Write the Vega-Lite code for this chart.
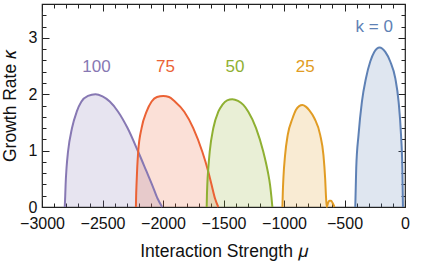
{
  "$schema": "https://vega.github.io/schema/vega-lite/v6.json",
  "width": 363,
  "height": 203,
  "autosize": "none",
  "padding": {"left": 42, "top": 4, "right": 16, "bottom": 56},
  "background": "white",
  "config": {
    "view": {"stroke": "#222", "strokeWidth": 1.2},
    "font": "Liberation Sans",
    "axis": {"labelFont": "Liberation Sans", "titleFont": "Liberation Sans", "labelFontSize": 16, "titleFontSize": 17.5, "labelColor": "#111", "titleColor": "#111", "titleFontWeight": "normal", "grid": false, "domain": false, "tickColor": "#222", "tickWidth": 1, "labelOverlap": false, "labelFlush": false}
  },
  "datasets": {
    "curves": [
      {"k": "100", "mu": -2812, "kappa": 0},
      {"k": "100", "mu": -2808, "kappa": 0.2},
      {"k": "100", "mu": -2805, "kappa": 0.39},
      {"k": "100", "mu": -2797, "kappa": 0.7},
      {"k": "100", "mu": -2785, "kappa": 0.98},
      {"k": "100", "mu": -2752, "kappa": 1.4},
      {"k": "100", "mu": -2713, "kappa": 1.69},
      {"k": "100", "mu": -2674, "kappa": 1.87},
      {"k": "100", "mu": -2620, "kappa": 1.97},
      {"k": "100", "mu": -2558, "kappa": 2.0},
      {"k": "100", "mu": -2500, "kappa": 1.96},
      {"k": "100", "mu": -2440, "kappa": 1.87},
      {"k": "100", "mu": -2371, "kappa": 1.69},
      {"k": "100", "mu": -2293, "kappa": 1.4},
      {"k": "100", "mu": -2205, "kappa": 0.98},
      {"k": "100", "mu": -2136, "kappa": 0.63},
      {"k": "100", "mu": -2089, "kappa": 0.39},
      {"k": "100", "mu": -2045, "kappa": 0.15},
      {"k": "100", "mu": -2007, "kappa": 0},
      {"k": "75", "mu": -2224, "kappa": 0},
      {"k": "75", "mu": -2222, "kappa": 0.2},
      {"k": "75", "mu": -2219, "kappa": 0.39},
      {"k": "75", "mu": -2213, "kappa": 0.7},
      {"k": "75", "mu": -2205, "kappa": 0.98},
      {"k": "75", "mu": -2177, "kappa": 1.4},
      {"k": "75", "mu": -2136, "kappa": 1.69},
      {"k": "75", "mu": -2094, "kappa": 1.87},
      {"k": "75", "mu": -2050, "kappa": 1.95},
      {"k": "75", "mu": -1998, "kappa": 1.97},
      {"k": "75", "mu": -1950, "kappa": 1.95},
      {"k": "75", "mu": -1902, "kappa": 1.87},
      {"k": "75", "mu": -1824, "kappa": 1.69},
      {"k": "75", "mu": -1750, "kappa": 1.4},
      {"k": "75", "mu": -1675, "kappa": 0.98},
      {"k": "75", "mu": -1626, "kappa": 0.63},
      {"k": "75", "mu": -1598, "kappa": 0.39},
      {"k": "75", "mu": -1570, "kappa": 0.15},
      {"k": "75", "mu": -1543, "kappa": 0},
      {"k": "50", "mu": -1639, "kappa": 0},
      {"k": "50", "mu": -1637, "kappa": 0.2},
      {"k": "50", "mu": -1634, "kappa": 0.39},
      {"k": "50", "mu": -1625, "kappa": 0.7},
      {"k": "50", "mu": -1614, "kappa": 0.98},
      {"k": "50", "mu": -1584, "kappa": 1.4},
      {"k": "50", "mu": -1543, "kappa": 1.69},
      {"k": "50", "mu": -1510, "kappa": 1.81},
      {"k": "50", "mu": -1470, "kappa": 1.89},
      {"k": "50", "mu": -1427, "kappa": 1.91},
      {"k": "50", "mu": -1380, "kappa": 1.88},
      {"k": "50", "mu": -1336, "kappa": 1.81},
      {"k": "50", "mu": -1295, "kappa": 1.69},
      {"k": "50", "mu": -1231, "kappa": 1.4},
      {"k": "50", "mu": -1171, "kappa": 0.98},
      {"k": "50", "mu": -1134, "kappa": 0.63},
      {"k": "50", "mu": -1115, "kappa": 0.39},
      {"k": "50", "mu": -1104, "kappa": 0.18},
      {"k": "50", "mu": -1096, "kappa": 0},
      {"k": "25", "mu": -1013, "kappa": 0},
      {"k": "25", "mu": -1010, "kappa": 0.25},
      {"k": "25", "mu": -1005, "kappa": 0.51},
      {"k": "25", "mu": -991, "kappa": 0.92},
      {"k": "25", "mu": -969, "kappa": 1.28},
      {"k": "25", "mu": -930, "kappa": 1.57},
      {"k": "25", "mu": -902, "kappa": 1.72},
      {"k": "25", "mu": -875, "kappa": 1.79},
      {"k": "25", "mu": -848, "kappa": 1.81},
      {"k": "25", "mu": -820, "kappa": 1.78},
      {"k": "25", "mu": -792, "kappa": 1.72},
      {"k": "25", "mu": -748, "kappa": 1.57},
      {"k": "25", "mu": -701, "kappa": 1.28},
      {"k": "25", "mu": -674, "kappa": 0.92},
      {"k": "25", "mu": -660, "kappa": 0.51},
      {"k": "25", "mu": -652, "kappa": 0.15},
      {"k": "25", "mu": -646, "kappa": 0},
      {"k": "25", "mu": -638, "kappa": 0.06},
      {"k": "25", "mu": -625, "kappa": 0.11},
      {"k": "25", "mu": -611, "kappa": 0.11},
      {"k": "25", "mu": -598, "kappa": 0.07},
      {"k": "25", "mu": -583, "kappa": 0},
      {"k": "0", "mu": -411, "kappa": 0},
      {"k": "0", "mu": -407, "kappa": 0.35},
      {"k": "0", "mu": -403, "kappa": 0.69},
      {"k": "0", "mu": -384, "kappa": 1.28},
      {"k": "0", "mu": -356, "kappa": 1.87},
      {"k": "0", "mu": -323, "kappa": 2.28},
      {"k": "0", "mu": -287, "kappa": 2.58},
      {"k": "0", "mu": -254, "kappa": 2.75},
      {"k": "0", "mu": -210, "kappa": 2.83},
      {"k": "0", "mu": -163, "kappa": 2.75},
      {"k": "0", "mu": -122, "kappa": 2.58},
      {"k": "0", "mu": -80, "kappa": 2.28},
      {"k": "0", "mu": -53, "kappa": 1.87},
      {"k": "0", "mu": -33, "kappa": 1.28},
      {"k": "0", "mu": -22, "kappa": 0.69},
      {"k": "0", "mu": -19, "kappa": 0.3},
      {"k": "0", "mu": -17, "kappa": 0}
    ],
    "labels": [
      {"k": "100", "text": "100", "mu": -2550, "kappa": 2.48},
      {"k": "75", "text": "75", "mu": -1979, "kappa": 2.48},
      {"k": "50", "text": "50", "mu": -1405, "kappa": 2.48},
      {"k": "25", "text": "25", "mu": -825, "kappa": 2.48}
    ],
    "klabel": [
      {"k": "0", "text": "k = 0", "mu": -254, "kappa": 3.19}
    ]
  },
  "layer": [
    {
      "data": {"name": "curves"},
      "mark": {"type": "area", "interpolate": "monotone", "fillOpacity": 0.2},
      "encoding": {
        "x": {"field": "mu", "type": "quantitative",
          "scale": {"domain": [-3000, 0], "nice": false, "zero": false},
          "axis": {"orient": "bottom", "title": "Interaction Strength 𝜇", "format": "d",
            "values": [-3000, -2500, -2000, -1500, -1000, -500, 0],
            "offset": -7, "tickSize": 7, "labelPadding": 8, "titlePadding": 11}},
        "y": {"field": "kappa", "type": "quantitative", "stack": null,
          "scale": {"domain": [0, 3.6], "nice": false, "zero": false},
          "axis": {"orient": "left", "title": "Growth Rate 𝜅", "format": "d",
            "values": [0, 1, 2, 3],
            "offset": -7, "tickSize": 7, "labelPadding": 5, "titlePadding": 9}},
        "color": {"field": "k", "type": "nominal",
          "scale": {"domain": ["0", "25", "50", "75", "100"], "range": ["#5E81B5", "#E19C24", "#8FB032", "#EB6235", "#8778B3"]},
          "legend": null}
      }
    },
    {
      "data": {"name": "curves"},
      "mark": {"type": "line", "interpolate": "monotone", "strokeWidth": 2},
      "encoding": {
        "x": {"field": "mu", "type": "quantitative",
          "axis": {"orient": "top", "title": null, "labels": false,
            "values": [-3000, -2500, -2000, -1500, -1000, -500, 0],
            "offset": -7, "tickSize": 7}},
        "y": {"field": "kappa", "type": "quantitative",
          "axis": {"orient": "right", "title": null, "labels": false,
            "values": [0, 1, 2, 3],
            "offset": -7, "tickSize": 7}},
        "color": {"field": "k", "type": "nominal", "legend": null},
        "detail": {"field": "k"}
      }
    },
    {
      "data": {"name": "labels"},
      "mark": {"type": "text", "font": "Liberation Sans", "fontSize": 17, "align": "center", "baseline": "middle"},
      "encoding": {
        "x": {"field": "mu", "type": "quantitative",
          "axis": {"orient": "bottom", "title": null, "labels": false,
            "values": [-2900,-2800,-2700,-2600,-2400,-2300,-2200,-2100,-1900,-1800,-1700,-1600,-1400,-1300,-1200,-1100,-900,-800,-700,-600,-400,-300,-200,-100],
            "offset": -4, "tickSize": 4}},
        "y": {"field": "kappa", "type": "quantitative",
          "axis": {"orient": "left", "title": null, "labels": false,
            "values": [0.2,0.4,0.6,0.8,1.2,1.4,1.6,1.8,2.2,2.4,2.6,2.8,3.2,3.4],
            "offset": -4, "tickSize": 4}},
        "text": {"field": "text"},
        "color": {"field": "k", "type": "nominal", "legend": null}
      }
    },
    {
      "data": {"name": "klabel"},
      "mark": {"type": "text", "font": "Liberation Sans", "fontSize": 17, "align": "center", "baseline": "middle"},
      "encoding": {
        "x": {"field": "mu", "type": "quantitative",
          "axis": {"orient": "top", "title": null, "labels": false,
            "values": [-2900,-2800,-2700,-2600,-2400,-2300,-2200,-2100,-1900,-1800,-1700,-1600,-1400,-1300,-1200,-1100,-900,-800,-700,-600,-400,-300,-200,-100],
            "offset": -4, "tickSize": 4}},
        "y": {"field": "kappa", "type": "quantitative",
          "axis": {"orient": "right", "title": null, "labels": false,
            "values": [0.2,0.4,0.6,0.8,1.2,1.4,1.6,1.8,2.2,2.4,2.6,2.8,3.2,3.4],
            "offset": -4, "tickSize": 4}},
        "text": {"field": "text"},
        "color": {"field": "k", "type": "nominal", "legend": null}
      }
    }
  ],
  "resolve": {"axis": {"x": "independent", "y": "independent"}}
}
